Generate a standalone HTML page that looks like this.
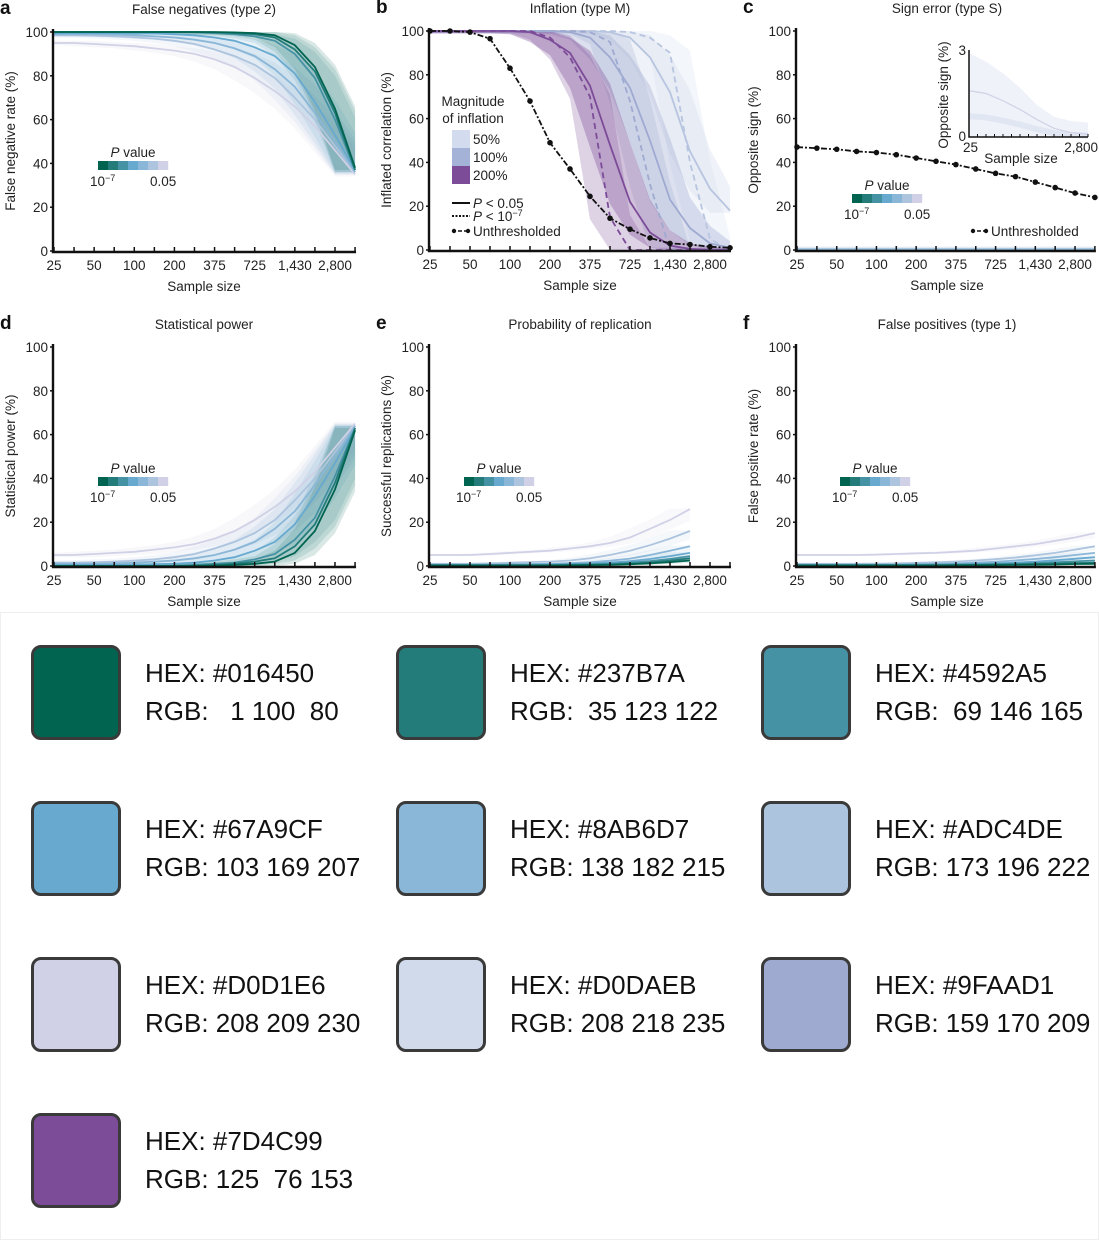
<!DOCTYPE html>
<html><head><meta charset="utf-8">
<style>
body{margin:0;background:#fff;width:1099px;height:1240px;overflow:hidden;font-family:"Liberation Sans",sans-serif}
svg{position:absolute;left:0;top:0}
.sw{position:absolute;width:84px;height:89px;border:3px solid #3a3a3a;border-radius:10px;box-sizing:content-box}
.tx{position:absolute;font-family:"Liberation Sans",sans-serif;font-size:26px;color:#111;line-height:38px;white-space:pre}
</style></head><body>
<svg id="chart" width="1099" height="612"></svg>
<div id="swatches" style="position:absolute;left:0;top:612px;width:1097px;height:626px;border:1px solid #eee"></div>
<script>
// ---- data ----
const sampleLabels=["25","50","100","200","375","725","1,430","2,800"];
const pColors=["#016450","#237B7A","#4592A5","#67A9CF","#8AB6D7","#ADC4DE","#D0D1E6"];
const fnr0=[100,100,100,100,100,100,100,100,100,99.8,99.5,98.5,94,84,65,38];
const fnr1=[100,100,100,100,100,100,100,100,99.8,99.5,99,97.5,92,82,63,37];
const fnr2=[100,100,100,100,100,100,100,99.8,99.5,99,98,96,90,79,60,37];
const fnr3=[99.5,99.5,99.5,99.5,99.4,99.3,99,98.5,97.5,96,93,89,81,68,53,37];
const fnr4=[99,99,99,98.8,98.5,98,97.5,96.5,95,92.5,89,83,75,63,50,36];
const fnr5=[98.5,98.5,98.3,98,97.6,97,96,94.5,92,89,85,79,70,60,48,36];
const fnr6=[95,95,94.5,94,93.5,92.5,91.5,90,87.5,84,79,73,66,57,46,35];
const pow0=[0,0,0,0,0,0,0,0,0.2,0.5,1,2,6,16,35,62];
const pow1=[0,0,0,0,0,0,0,0.2,0.5,1,2,3.5,9,19,38,63];
const pow2=[0,0,0,0,0,0,0.2,0.5,1,1.5,3,5.5,12,22,41,63];
const pow3=[0.5,0.5,0.5,0.5,0.6,0.8,1,1.5,2.5,4,7,11,19,32,47,63];
const pow4=[1,1,1,1.2,1.5,2,2.5,3.5,5,7.5,11,17,25,37,50,64];
const pow5=[1.5,1.5,1.7,2,2.4,3,4,5.5,8,11,15,21,30,40,52,64];
const pow6=[5,5,5.5,6,6.5,7.5,8.5,10,12.5,16,21,27,34,43,54,65];
const rep0=[0.2,0.2,0.2,0.2,0.2,0.2,0.2,0.3,0.4,0.5,0.8,1.2,1.8,2.5];
const rep1=[0.3,0.3,0.3,0.3,0.3,0.3,0.3,0.4,0.5,0.7,1,1.6,2.4,3.5];
const rep2=[0.4,0.4,0.4,0.4,0.4,0.4,0.5,0.6,0.8,1,1.5,2.2,3.2,4.5];
const rep3=[0.5,0.5,0.5,0.5,0.5,0.6,0.7,0.9,1.1,1.5,2.2,3.2,4.5,6];
const rep4=[0.6,0.6,0.6,0.7,0.8,0.9,1,1.3,1.7,2.4,3.4,5,7,9];
const rep5=[1,1,1,1.2,1.5,1.8,2,2.5,3.5,5,7,9.5,12.5,16];
const rep6=[5,5,5,5.5,6,6.5,7,8,9,10.5,13,17,21,26];
const fp0=[0.2,0.2,0.2,0.2,0.2,0.2,0.2,0.2,0.3,0.3,0.4,0.5,0.6,0.7,0.9,1];
const fp1=[0.3,0.3,0.3,0.3,0.3,0.3,0.3,0.3,0.4,0.5,0.6,0.7,0.9,1.1,1.3,1.5];
const fp2=[0.4,0.4,0.4,0.4,0.4,0.4,0.4,0.5,0.6,0.7,0.8,1,1.3,1.7,2.1,2.5];
const fp3=[0.5,0.5,0.5,0.5,0.5,0.5,0.6,0.7,0.8,1,1.2,1.5,2,2.6,3.3,4];
const fp4=[0.6,0.6,0.6,0.6,0.6,0.7,0.8,1,1.2,1.5,1.9,2.5,3.2,4,5,6];
const fp5=[1,1,1,1,1.1,1.2,1.4,1.7,2,2.5,3.1,3.9,4.9,6,7.5,9];
const fp6=[5,5,5,5,5.2,5.5,5.8,6,6.5,7,8,9,10,11.5,13,15];
const unthrB=[100,100,99.5,96.5,83,68,49,37,24.5,14.5,9.5,5.5,3,2.5,1.5,1];
const unthrC=[47,46.5,46,45,44.5,43.5,42,40.5,39,37,35,33.5,31,28.5,26,24];
const inf200s=[100,100,100,100,100,99.5,96,90,75,48,22,8,2,0.5,0,0];
const inf200d=[100,100,100,100,100,100,97,88,70,15,0,0,0,0,0,0];
const inf100s=[100,100,100,100,100,100,100,99.5,97,88,74,50,23,10,3,1];
const inf100d=[100,100,100,100,100,100,100,100,99.5,95,68,30,0,0,0,0];
const inf50s=[100,100,100,100,100,100,100,100,100,99.5,97,88,72,45,28,18];
const inf50d=[100,100,100,100,100,100,100,100,100,100,99.5,97,90,40,5,0];
const insetVals=[1.6,1.5,1.25,0.95,0.6,0.3,0.15,0.1];
const insetUpper=[2.9,2.6,2.2,1.7,1.1,0.7,0.55,0.5];
const infColors=["#D0DAEB","#9FAAD1","#7D4C99"];
const yTicks=[0,20,40,60,80,100];

const NS="http://www.w3.org/2000/svg";
const svg=document.getElementById('chart');
function el(tag,attrs,parent,text){const e=document.createElementNS(NS,tag);for(const k in attrs)e.setAttribute(k,attrs[k]);if(text!==undefined)e.textContent=text;(parent||svg).appendChild(e);return e;}
function mk(p){return {X:i=>p.x0+i*p.st,Y:v=>p.yb-v*2.19};}
function pathD(f,vals){return vals.map((v,i)=>(i?'L':'M')+f.X(i).toFixed(1)+' '+f.Y(v).toFixed(1)).join(' ');}
function bandD(f,lo,hi){let d=hi.map((v,i)=>(i?'L':'M')+f.X(i).toFixed(1)+' '+f.Y(v).toFixed(1)).join(' ');for(let i=lo.length-1;i>=0;i--)d+='L'+f.X(i).toFixed(1)+' '+f.Y(lo[i]).toFixed(1);return d+'Z';}
// band from neighbour values (wider where curve is steep)
function shiftBand(v,w){const n=v.length;
  const a=v.map((x,i)=>v[Math.max(0,i-1)]),b=v.map((x,i)=>v[Math.min(n-1,i+1)]);
  const lo=v.map((x,i)=>Math.max(0,Math.min(a[i],b[i],x)-w)),hi=v.map((x,i)=>Math.min(100,Math.max(a[i],b[i],x)+w));
  return [lo,hi];}

function axes(p,letter,title,ylab){
  const f=mk(p);const g=el('g',{});
  
  
  const t=el('text',{x:p.x0+150,y:p.yb-237,'font-size':13.5,'text-anchor':'middle',fill:'#222'},g,title);
  
  
  const L=el('text',{x:p.x0-54,y:p.yb-237,'font-size':19,'font-weight':'bold',fill:'#111'},g,letter);
  
  
  const yl=el('text',{transform:`translate(${p.x0-39},${p.yb-110}) rotate(-90)`,'font-size':13.5,'text-anchor':'middle',fill:'#222'},g,ylab);
  
  
  const xl=el('text',{x:p.x0+150,y:p.yb+40,'font-size':13.5,'text-anchor':'middle',fill:'#222'},g,'Sample size');
  
  
  return {f,g};
}
function finishAxes(p,g,f){
  const ax=el('path',{d:`M${p.x0-1} ${p.yb-222}V${p.yb+1}H${f.X(15)+1}`,stroke:'#111','stroke-width':2.4,fill:'none'},g);
  
  
  yTicks.forEach(v=>{el('line',{x1:p.x0-4,x2:p.x0,y1:f.Y(v),y2:f.Y(v),stroke:'#111','stroke-width':1.5},g);
    const tl=el('text',{x:p.x0-6,y:f.Y(v)+5,'font-size':13.5,'text-anchor':'end',fill:'#222'},g,String(v));
    
    });
  for(let i=0;i<16;i++)el('line',{x1:f.X(i),x2:f.X(i),y1:p.yb,y2:p.yb-4,stroke:'#111','stroke-width':1.5},g);
  sampleLabels.forEach((s,k)=>{const tl=el('text',{x:f.X(k*2),y:p.yb+19,'font-size':13.5,'text-anchor':'middle',fill:'#222'},g,s);
    
    });
}
function pLegend(g,x,y){
  const lg=el('g',{},g);
  
  
  el('text',{x:x+35,y:y-4,'font-size':13.5,'text-anchor':'middle',fill:'#222'},lg).innerHTML='<tspan font-style="italic">P</tspan> value';
  pColors.forEach((c,i)=>el('rect',{x:x+i*10,y:y,width:10.2,height:9,fill:c},lg));
  el('text',{x:x-8,y:y+25,'font-size':13.5,fill:'#222'},lg).innerHTML='10<tspan dy="-5" font-size="9">−7</tspan>';
  el('text',{x:x+52,y:y+25,'font-size':13.5,fill:'#222'},lg,'0.05');
}
function seriesPanel(p,letter,title,ylab,list,bw,legXY,op){
  const {f,g}=axes(p,letter,title,ylab);
  for(let s=list.length-1;s>=0;s--){const [lo,hi]=shiftBand(list[s],bw[s]);
    el('path',{d:bandD(f,lo,hi),fill:pColors[s],opacity:op},g);}
  for(let s=list.length-1;s>=0;s--){const ln=el('path',{d:pathD(f,list[s]),stroke:pColors[s],'stroke-width':1.8,fill:'none'},g);
    
    }
  finishAxes(p,g,f);
  pLegend(g,legXY[0],legXY[1]);
  return {f,g};
}
const PA={x0:54,yb:251,st:20.07},PB={x0:430,yb:250,st:20.0},PC={x0:797,yb:250,st:19.86};
const PD={x0:54,yb:566,st:20.07},PE={x0:430,yb:566,st:20.0},PF={x0:797,yb:566,st:19.86};

seriesPanel(PA,'a','False negatives (type 2)','False negative rate (%)',[fnr0,fnr1,fnr2,fnr3,fnr4,fnr5,fnr6],[1,1,1,1,1,1,1],[98,161],0.15);
seriesPanel(PD,'d','Statistical power','Statistical power (%)',[pow0,pow1,pow2,pow3,pow4,pow5,pow6],[1,1,1,1,1,1,1],[98,477],0.15);
seriesPanel(PE,'e','Probability of replication','Successful replications (%)',[rep0,rep1,rep2,rep3,rep4,rep5,rep6],[0.3,0.3,0.3,0.3,0.3,0.3,0.3],[464,477],0.12);
seriesPanel(PF,'f','False positives (type 1)','False positive rate (%)',[fp0,fp1,fp2,fp3,fp4,fp5,fp6],[0.3,0.3,0.3,0.3,0.3,0.3,0.3],[840,477],0.12);

// panel b
(function(){
  const {f,g}=axes(PB,'b','Inflation (type M)','Inflated correlation (%)');
  const sets=[[inf50s,inf50d,0],[inf100s,inf100d,1],[inf200s,inf200d,2]];
  sets.forEach(([s,d,c])=>{
    let [lo,hi]=shiftBand(s,1);el('path',{d:bandD(f,lo,hi),fill:infColors[c],opacity:0.35},g);
    [lo,hi]=shiftBand(d,1);el('path',{d:bandD(f,lo,hi),fill:infColors[c],opacity:0.25},g);});
  sets.forEach(([s,d,c])=>{
    const col=c===0?'#B8C5E0':infColors[c];
    const a=el('path',{d:pathD(f,s),stroke:col,'stroke-width':1.8,fill:'none'},g);
    
    
    const b=el('path',{d:pathD(f,d),stroke:col,'stroke-width':1.8,'stroke-dasharray':'6 4',fill:'none'},g);
    
    });
  const u=el('path',{d:pathD(f,unthrB),stroke:'#111','stroke-width':1.8,'stroke-dasharray':'6 2 2 2',fill:'none'},g);
  
  
  unthrB.forEach((v,i)=>el('circle',{cx:f.X(i),cy:f.Y(v),r:2.8,fill:'#111'},g));
  finishAxes(PB,g,f);
  const lg=el('g',{},g);
  
  
  el('text',{x:473,y:106,'font-size':13.5,'text-anchor':'middle',fill:'#222'},lg,'Magnitude');
  el('text',{x:473,y:123,'font-size':13.5,'text-anchor':'middle',fill:'#222'},lg,'of inflation');
  ['50%','100%','200%'].forEach((t,i)=>{el('rect',{x:452,y:130+i*18,width:18,height:18,fill:['#D3DCEE','#A5B2D7','#7D4C99'][i]},lg);
    el('text',{x:473,y:144+i*18,'font-size':13.5,fill:'#222'},lg,t);});
  el('line',{x1:452,x2:470,y1:203,y2:203,stroke:'#111','stroke-width':2},lg);
  el('text',{x:473,y:208,'font-size':13.5,fill:'#222'},lg).innerHTML='<tspan font-style="italic">P</tspan> &lt; 0.05';
  el('line',{x1:452,x2:470,y1:216,y2:216,stroke:'#111','stroke-width':2,'stroke-dasharray':'2 1.5'},lg);
  el('text',{x:473,y:221,'font-size':13.5,fill:'#222'},lg).innerHTML='<tspan font-style="italic">P</tspan> &lt; 10<tspan dy="-5" font-size="9">−7</tspan>';
  el('line',{x1:452,x2:470,y1:231,y2:231,stroke:'#111','stroke-width':1.5,'stroke-dasharray':'4 2'},lg);
  el('circle',{cx:454,cy:231,r:2.2,fill:'#111'},lg);el('circle',{cx:468,cy:231,r:2.2,fill:'#111'},lg);
  el('text',{x:473,y:236,'font-size':13.5,fill:'#222'},lg,'Unthresholded');
})();

// panel c
(function(){
  const {f,g}=axes(PC,'c','Sign error (type S)','Opposite sign (%)');
  el('rect',{x:f.X(0),y:f.Y(1.5),width:f.X(15)-f.X(0),height:2.19*1.5,fill:'#D0DAEB',opacity:0.6},g);
  el('line',{x1:f.X(0),x2:f.X(15),y1:f.Y(0.3),y2:f.Y(0.3),stroke:'#8AB6D7','stroke-width':2},g);
  const u=el('path',{d:pathD(f,unthrC),stroke:'#111','stroke-width':1.8,'stroke-dasharray':'6 2 2 2',fill:'none'},g);
  
  
  unthrC.forEach((v,i)=>el('circle',{cx:f.X(i),cy:f.Y(v),r:2.8,fill:'#111'},g));
  finishAxes(PC,g,f);
  pLegend(g,852,194);
  el('line',{x1:971,x2:987,y1:231,y2:231,stroke:'#111','stroke-width':1.5,'stroke-dasharray':'4 2'},g);
  el('circle',{cx:973,cy:231,r:2.2,fill:'#111'},g);el('circle',{cx:986,cy:231,r:2.2,fill:'#111'},g);
  el('text',{x:991,y:236,'font-size':13.5,fill:'#222'},g,'Unthresholded');
  const ig=el('g',{},g);
  
  
  const IX=i=>969+i*(1088-969)/7, IY=v=>137-v*29;
  let d='M'+IX(0)+' '+IY(0);insetUpper.forEach((v,i)=>d+='L'+IX(i)+' '+IY(v));d+='L'+IX(7)+' '+IY(0)+'Z';
  el('path',{d,fill:'#EEF1F8',opacity:0.9},ig);
  el('path',{d:insetVals.map((v,i)=>(i?'L':'M')+IX(i)+' '+IY(v*0.45)).join(''),fill:'none',stroke:'#D0DAEB','stroke-width':6,opacity:0.5},ig);
  el('path',{d:insetVals.map((v,i)=>(i?'L':'M')+IX(i)+' '+IY(v)).join(''),fill:'none',stroke:'#D0D1E6','stroke-width':1.2},ig);
  el('path',{d:`M969 50V137H1088`,stroke:'#111','stroke-width':1.5,fill:'none'},ig);
  for(let i=0;i<15;i++)el('line',{x1:969+i*8.5,x2:969+i*8.5,y1:137,y2:134,stroke:'#111','stroke-width':1},ig);
  el('text',{x:966,y:55,'font-size':13.5,'text-anchor':'end',fill:'#222'},ig,'3');
  el('text',{x:966,y:141,'font-size':13.5,'text-anchor':'end',fill:'#222'},ig,'0');
  el('text',{x:963,y:152,'font-size':13.5,fill:'#222'},ig,'25');
  el('text',{x:1098,y:152,'font-size':13.5,'text-anchor':'end',fill:'#222'},ig,'2,800');
  el('text',{x:1021,y:163,'font-size':13.5,'text-anchor':'middle',fill:'#222'},ig,'Sample size');
  el('text',{transform:'translate(948,95) rotate(-90)','font-size':13.5,'text-anchor':'middle',fill:'#222'},ig,'Opposite sign (%)');
})();

// swatches
const swHex=["#016450","#237B7A","#4592A5","#67A9CF","#8AB6D7","#ADC4DE","#D0D1E6","#D0DAEB","#9FAAD1","#7D4C99"];
const swRgb=["  1 100  80"," 35 123 122"," 69 146 165","103 169 207","138 182 215","173 196 222","208 209 230","208 218 235","159 170 209","125  76 153"];
const box=document.getElementById('swatches');
swHex.forEach((h,i)=>{
  const col=i%3,row=Math.floor(i/3);
  const x=30+col*365,y=32+row*156;
  const s=document.createElement('div');s.className='sw';
  s.style.left=x+'px';s.style.top=y+'px';s.style.background=h;
  
  
  box.appendChild(s);
  const t=document.createElement('div');t.className='tx';
  t.style.left=(x+114)+'px';t.style.top=(y+9)+'px';
  t.textContent='HEX: '+h+'\nRGB: '+swRgb[i];
  
  
  box.appendChild(t);
});
</script>
</body></html>
